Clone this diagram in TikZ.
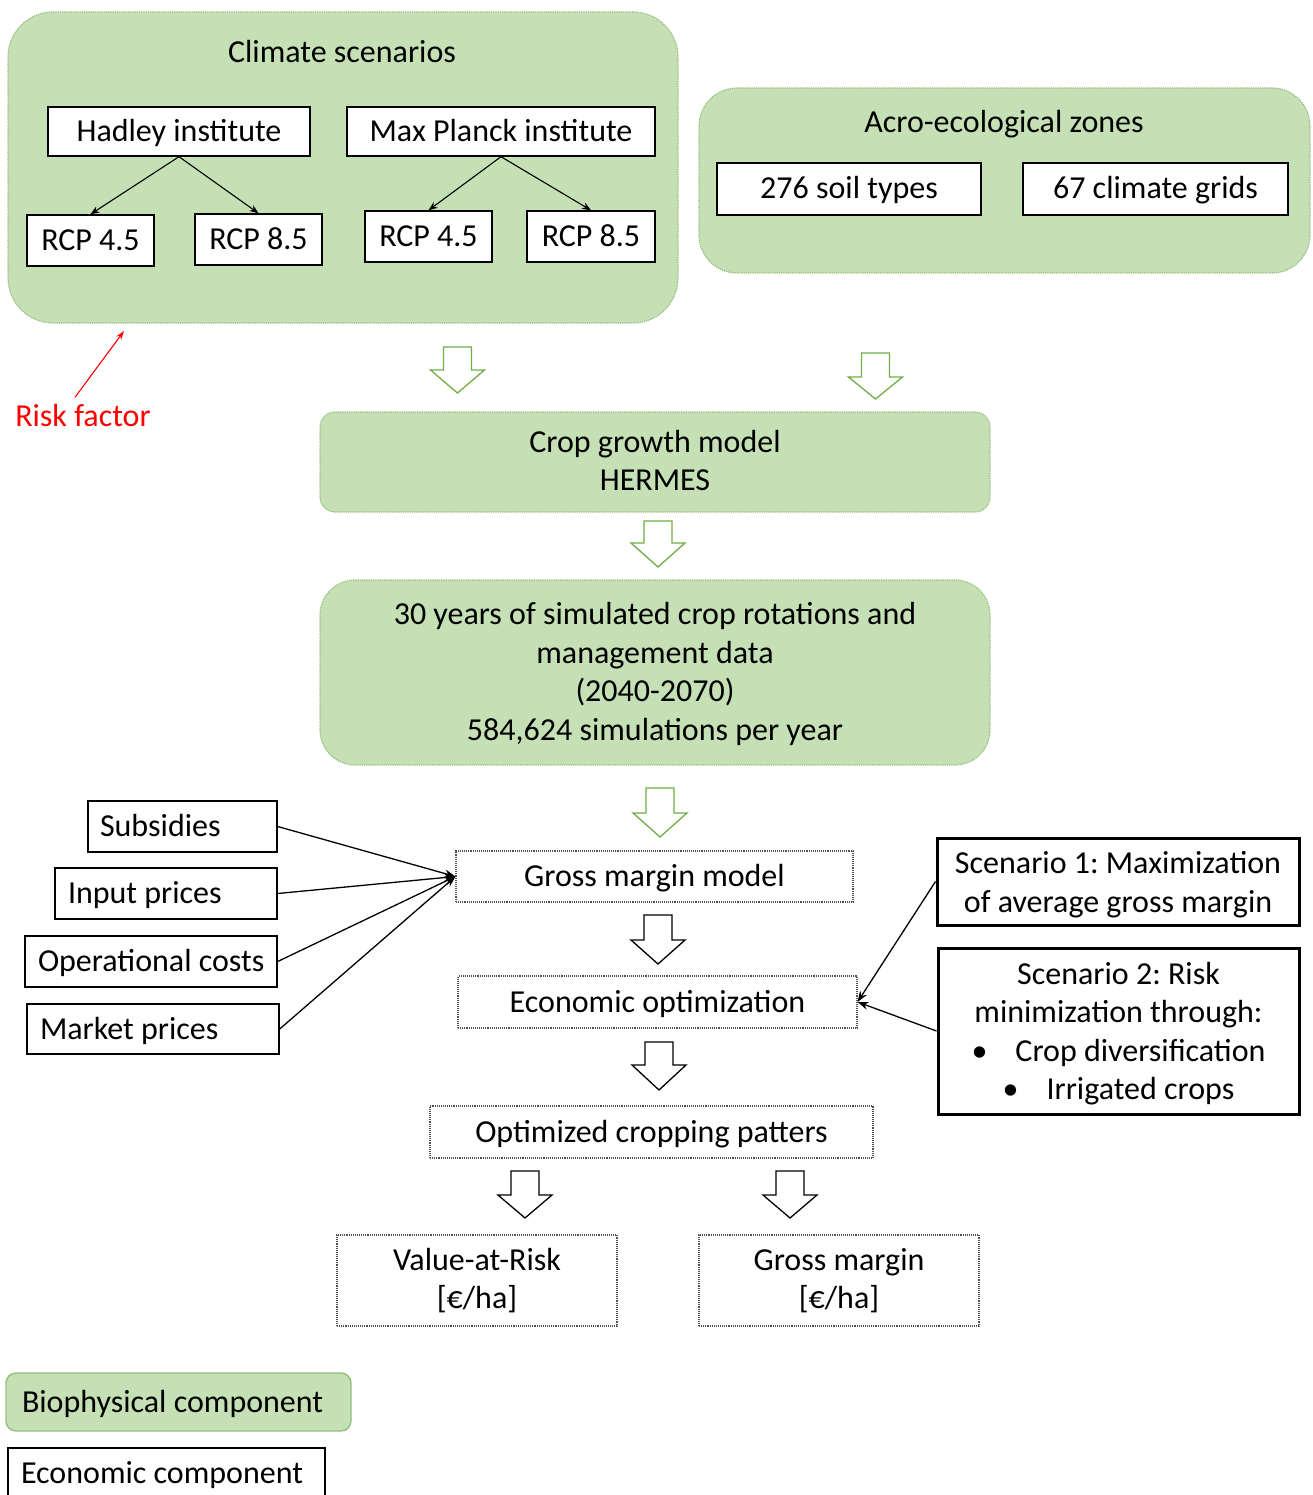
\documentclass[tikz,border=0pt]{standalone}
\usepackage{fontspec}
\setmainfont{Carlito}
\usetikzlibrary{arrows.meta}
\definecolor{gfill}{RGB}{197,224,180}
\definecolor{gline}{RGB}{150,190,125}
\definecolor{agreen}{RGB}{112,173,71}
\definecolor{dgray}{RGB}{80,80,80}
\newcommand\blockarr[5]{%
  \draw[#5, line width=1.3, fill=white, line join=miter]
    (#1-14,#2) -- (#1+14,#2) -- (#1+14,#3) -- (#1+27,#3) -- (#1,#4)
    -- (#1-27,#3) -- (#1-14,#3) -- cycle;}
\newcommand\lefttext[2]{\makebox[#1pt][l]{#2}}
\frenchspacing
\begin{document}
\begin{tikzpicture}[x=1pt,y=-1pt,
  font=\fontsize{32}{38.5}\selectfont\frenchspacing,
  gbox/.style={draw=gline, line width=1.2, densely dotted, fill=gfill, inner sep=0},
  wbox/.style={draw=black, line width=1.4, fill=white, inner sep=0, align=center,
    text height=25, text depth=5},
  ebox/.style={draw=dgray, line width=1.1, densely dotted, fill=white, inner sep=0, align=center},
  sbox/.style={draw=black, line width=3, fill=white, inner sep=0},
  txt/.style={inner sep=0, align=center},
  sl/.style={text height=25, text depth=5},
  conn/.style={line width=1.3, -{Stealth[length=11,width=8]}},
]
\useasboundingbox (0,0) rectangle (1312,1495);

% biophysical green boxes
\node[gbox, rounded corners=45, minimum width=670, minimum height=311] (clim) at (343,167.5) {};
\node[gbox, rounded corners=38, minimum width=611, minimum height=185] (acro) at (1004.5,180.5) {};
\node[txt, sl] (climt) at (342,52.5) {Climate scenarios};
\node[txt, sl] (acrot) at (1004,123) {Acro-ecological zones};

\node[wbox, minimum width=262, minimum height=49] (had) at (179,131.5) {Hadley institute};
\node[wbox, minimum width=308, minimum height=49] (mp) at (501,131.5) {Max Planck institute};
\node[wbox, minimum width=127, minimum height=51] (r1) at (90.5,240.5) {RCP 4.5};
\node[wbox, minimum width=127, minimum height=51] (r2) at (258.5,239.5) {RCP 8.5};
\node[wbox, minimum width=127, minimum height=51] (r3) at (428.5,236.5) {RCP 4.5};
\node[wbox, minimum width=128, minimum height=51] (r4) at (591,236.5) {RCP 8.5};
\node[wbox, minimum width=264, minimum height=52] (soil) at (849,189) {276 soil types};
\node[wbox, minimum width=265, minimum height=52] (grid) at (1155.5,189) {67 climate grids};

\draw[conn, line width=1.1, -{Stealth[length=9,width=7]}] (had.south) -- (r1.north);
\draw[conn, line width=1.1, -{Stealth[length=9,width=7]}] (had.south) -- (r2.north);
\draw[conn, line width=1.1, -{Stealth[length=9,width=7]}] (mp.south) -- (r3.north);
\draw[conn, line width=1.1, -{Stealth[length=9,width=7]}] (mp.south) -- (r4.north);

% risk factor
\node[txt, sl, text=red] (risk) at (83,416.5) {Risk factor};
\coordinate (rf) at (124,331);
\draw[red, line width=1.1, -{Stealth[length=9,width=6]}] ([xshift=-8pt,yshift=4pt]risk.north) -- (rf);

% crop model boxes
\node[gbox, rounded corners=15, minimum width=670, minimum height=100] (crop) at (655,462) {};
\node[txt] (cropt) at ([yshift=1.5pt]crop.center) {Crop growth model\\HERMES};
\node[gbox, rounded corners=35, minimum width=670, minimum height=185] (years) at (655,672.5) {};
\node[txt] (yearst) at ([yshift=-1.5pt]years.center)
  {30 years of simulated crop rotations and\\management data\\(2040-2070)\\584,624 simulations per year};

% green block arrows
\blockarr{457.5}{347}{370}{393}{agreen}
\blockarr{875.5}{353}{377}{399}{agreen}
\blockarr{658}{521}{543}{567}{agreen}
\blockarr{660}{788}{813}{837}{agreen}

% economic
\node[wbox, minimum width=189, minimum height=51] (sub) at (182.5,826.5) {\lefttext{165}{Subsidies}};
\node[wbox, minimum width=222, minimum height=51] (inp) at (166,893.5) {\lefttext{196}{Input prices}};
\node[wbox, minimum width=252, minimum height=51] (ops) at (151,961.5) {\lefttext{226}{Operational costs}};
\node[wbox, minimum width=252, minimum height=50] (mkt) at (153,1029) {\lefttext{226}{Market prices}};

\node[ebox, sl, minimum width=397, minimum height=51] (gmm) at (654.5,876.5) {Gross margin model};
\node[ebox, sl, minimum width=399, minimum height=52] (eco) at (657.5,1002) {Economic optimization};
\node[ebox, sl, minimum width=443, minimum height=52] (opt) at (651.5,1132) {Optimized cropping patters};

\node[sbox, minimum width=362, minimum height=87] (sc1) at (1118,881.5) {};
\node[txt] (sc1t) at ([yshift=-3pt]sc1.center) {Scenario 1: Maximization\\of average gross margin};
\node[sbox, minimum width=361, minimum height=166] (sc2) at (1118.5,1031) {};
\node[txt] (sc2t) at ([yshift=-2.5pt]sc2.center)
  {Scenario 2: Risk\\minimization through:\\\textbullet\hspace{28pt}Crop diversification\\\textbullet\hspace{28pt}Irrigated crops};

\draw[conn] (sub.east) -- (gmm.west);
\draw[conn] (inp.east) -- (gmm.west);
\draw[conn] (ops.east) -- (gmm.west);
\draw[conn] (mkt.east) -- (gmm.west);
\draw[conn] (sc1.west) -- (eco.east);
\draw[conn] (sc2.west) -- (eco.east);

\blockarr{658}{915}{940}{964}{black}
\blockarr{659}{1042}{1065}{1090}{black}
\blockarr{525}{1171}{1195}{1218}{black}
\blockarr{790}{1171}{1195}{1218}{black}

\node[ebox, minimum width=280, minimum height=91] (var) at (477,1280.5) {Value-at-Risk\\{[€/ha]}};
\node[ebox, minimum width=280, minimum height=91] (gm) at (839,1280.5) {Gross margin\\{[€/ha]}};

% legend
\node[gbox, solid, draw=gline, line width=1.4, rounded corners=10, minimum width=345, minimum height=58, sl]
  (bio) at (178.5,1402) {\lefttext{313}{Biophysical component}};
\node[wbox, minimum width=317, minimum height=50] (ecc) at (166.5,1473) {\lefttext{291}{Economic component}};
\end{tikzpicture}
\end{document}
